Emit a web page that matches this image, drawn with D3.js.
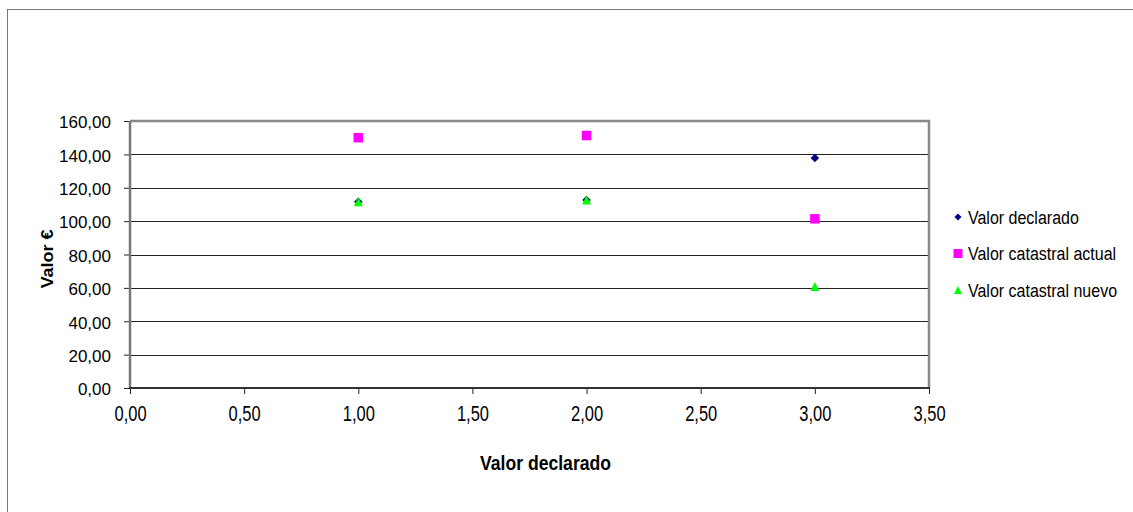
<!DOCTYPE html>
<html>
<head>
<meta charset="utf-8">
<script src="https://cdn.jsdelivr.net/npm/d3@7"></script>
<style>
  body { margin: 0; background: #fff; }
  svg { display: block; font-family: "Liberation Sans", Arial, sans-serif; }
</style>
</head>
<body>
<div id="chart"></div>
<script>
// series, x = 1..3
let xValues = [1, 2, 3];
let valorDeclarado = [111.6, 112.6, 137.8];
let valorActual = [150.0, 151.3, 101.4];
let valorNuevo = [111.6, 112.6, 60.8];

let seriesNames = ["Valor declarado", "Valor catastral actual", "Valor catastral nuevo"];
let xTicks = [0, 0.5, 1, 1.5, 2, 2.5, 3, 3.5];
let yTicks = [0, 20, 40, 60, 80, 100, 120, 140, 160];

let width = 1133, height = 512;
let plot = { left: 130, right: 929, top: 121, bottom: 388 };

let fmt = d => d3.format(".2f")(d).replace(".", ",");

let x = d3.scaleLinear().domain([0, 3.5]).range([plot.left, plot.right]);
let y = d3.scaleLinear().domain([0, 160]).range([plot.bottom, plot.top]);

// excel-like marker shapes, centred on their box
let diamond = {
  draw(ctx, s) {
    let r = Math.sqrt(s) / 2;
    ctx.moveTo(0, -r); ctx.lineTo(r, 0); ctx.lineTo(0, r); ctx.lineTo(-r, 0); ctx.closePath();
  }
};
let square = {
  draw(ctx, s) {
    let r = Math.sqrt(s) / 2;
    ctx.rect(-r, -r, 2 * r, 2 * r);
  }
};
let triangle = {
  draw(ctx, s) {
    let r = Math.sqrt(s) / 2;
    ctx.moveTo(0, -r); ctx.lineTo(r, r); ctx.lineTo(-r, r); ctx.closePath();
  }
};

const svg = d3.select("#chart").append("svg")
  .attr("width", width)
  .attr("height", height);

// outer chart frame
svg.append("rect")
  .attr("x", 7.5).attr("y", 9.5)
  .attr("width", 1140).attr("height", 520)
  .attr("fill", "none")
  .attr("stroke", "#777");

// gridlines
svg.append("g")
  .selectAll("line")
  .data(yTicks.filter(d => d > 0 && d < 160))
  .enter().append("line")
  .attr("x1", plot.left).attr("x2", plot.right)
  .attr("y1", d => Math.round(y(d)) + 0.5)
  .attr("y2", d => Math.round(y(d)) + 0.5)
  .attr("stroke", "#222");

// plot border top/right
svg.append("path")
  .attr("d", `M${plot.left},${plot.top} H${plot.right} V${plot.bottom}`)
  .attr("fill", "none")
  .attr("stroke", "#888")
  .attr("stroke-width", 2.5);

let axisLeft = d3.axisLeft(y).tickValues(yTicks).tickFormat(fmt).tickSize(6).tickPadding(13);
let axisBottom = d3.axisBottom(x).tickValues(xTicks).tickFormat(fmt).tickSize(6);

let gy = svg.append("g")
  .attr("transform", `translate(${plot.left},0)`)
  .call(axisLeft);
gy.select(".domain").remove();
gy.selectAll(".tick line").attr("stroke", "#222");
gy.selectAll("text")
  .attr("font-size", 17).attr("fill", "#000")
  .attr("dy", "0.4em");
gy.attr("font-family", null);

let gx = svg.append("g")
  .attr("transform", `translate(0,${plot.bottom})`)
  .call(axisBottom);
gx.select(".domain").remove();
gx.selectAll(".tick line").attr("stroke", "#222");
gx.selectAll("text")
  .attr("font-size", 16.5).attr("fill", "#000")
  .attr("y", null).attr("dy", null)
  .attr("transform", "translate(0,33) scale(1,1.3)");
gx.attr("font-family", null);

// axis lines
svg.append("line")
  .attr("x1", plot.left).attr("x2", plot.left)
  .attr("y1", plot.top).attr("y2", plot.bottom)
  .attr("stroke", "#777").attr("stroke-width", 2.5);
svg.append("line")
  .attr("x1", plot.left - 1).attr("x2", plot.right + 1)
  .attr("y1", plot.bottom).attr("y2", plot.bottom)
  .attr("stroke", "#333").attr("stroke-width", 2);

// axis titles
svg.append("text")
  .attr("transform", `translate(${(plot.left + plot.right) / 2 + 16},470) scale(1,1.19)`)
  .attr("text-anchor", "middle")
  .attr("font-size", 17.6)
  .attr("font-weight", "bold")
  .text("Valor declarado");

svg.append("text")
  .attr("transform", `translate(53,259) rotate(-90) scale(1.12,1)`)
  .attr("text-anchor", "middle")
  .attr("font-size", 16)
  .attr("font-weight", "bold")
  .text("Valor €");

// markers
let series = [
  { name: seriesNames[0], values: valorDeclarado, type: diamond, size: 72, legendSize: 50, color: "#000080" },
  { name: seriesNames[1], values: valorActual, type: square, size: 90, legendSize: 81, color: "#ff00ff" },
  { name: seriesNames[2], values: valorNuevo, type: triangle, size: 81, legendSize: 64, color: "#00ff00" }
];

series.forEach(s => {
  svg.append("g")
    .selectAll("path")
    .data(s.values)
    .enter().append("path")
    .attr("transform", (d, i) => `translate(${x(xValues[i])},${y(d)})`)
    .attr("d", d3.symbol().type(s.type).size(s.size)())
    .attr("fill", s.color);
});

// legend
let legend = svg.append("g").attr("transform", "translate(958,217)");
series.forEach((s, i) => {
  let row = legend.append("g").attr("transform", `translate(0,${i * 36.5})`);
  row.append("path")
    .attr("d", d3.symbol().type(s.type).size(s.legendSize)())
    .attr("fill", s.color);
  row.append("text")
    .attr("transform", "translate(10,6.5) scale(1,1.13)")
    .attr("font-size", 16)
    .text(s.name);
});
</script>
</body>
</html>
